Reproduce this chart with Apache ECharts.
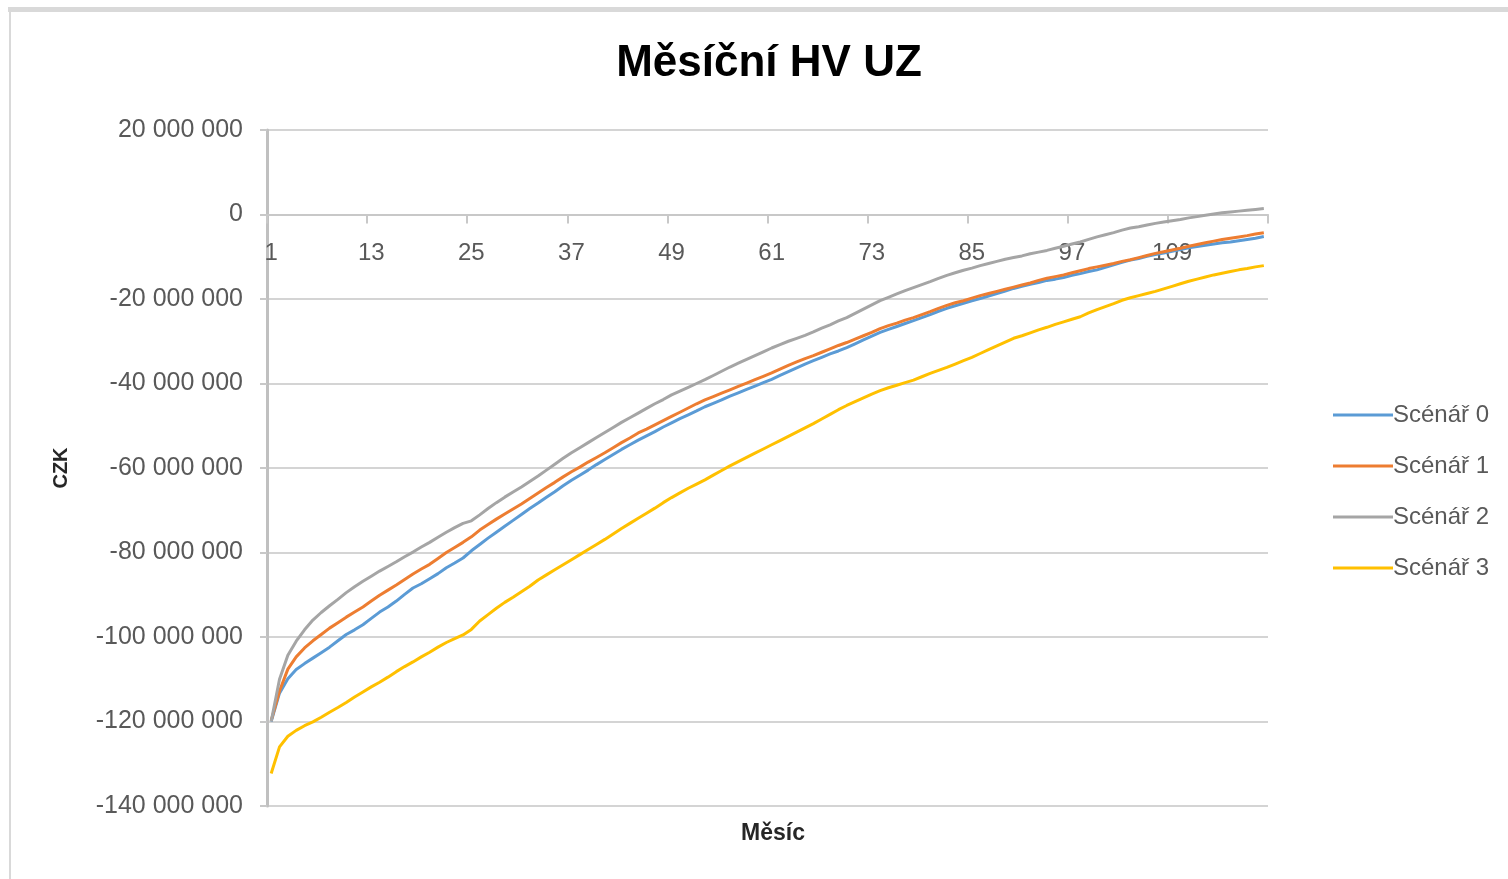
<!DOCTYPE html>
<html>
<head>
<meta charset="utf-8">
<title>Měsíční HV UZ</title>
<script src="https://cdn.jsdelivr.net/npm/echarts@6/dist/echarts.min.js"></script>
<style>
  html, body { margin: 0; padding: 0; background: #ffffff; }
  #chart { width: 1508px; height: 879px; }
</style>
</head>
<body>
<div id="chart"></div>
<script>
// měsíce 1..120
const months = Array.from({ length: 120 }, (_, i) => String(i + 1))

// hodnoty v milionech CZK
const scenar0 = [
  -120.0, -113.3, -109.9, -107.7, -106.3, -105.0, -103.7, -102.4, -100.9, -99.4,
  -98.3, -97.1, -95.6, -94.1, -92.9, -91.5, -89.9, -88.4, -87.4, -86.2,
  -85.0, -83.6, -82.5, -81.3, -79.6, -78.1, -76.6, -75.2, -73.8, -72.4,
  -71.0, -69.6, -68.3, -66.9, -65.6, -64.2, -62.9, -61.7, -60.5, -59.2,
  -58.0, -56.8, -55.6, -54.5, -53.4, -52.4, -51.4, -50.3, -49.3, -48.3,
  -47.4, -46.5, -45.5, -44.7, -43.9, -43.0, -42.2, -41.4, -40.6, -39.8,
  -39.0, -38.1, -37.2, -36.3, -35.4, -34.6, -33.8, -33.0, -32.3, -31.5,
  -30.6, -29.7, -28.8, -27.9, -27.2, -26.5, -25.8, -25.1, -24.4, -23.7,
  -22.9, -22.2, -21.6, -21.0, -20.4, -19.9, -19.3, -18.7, -18.1, -17.5,
  -17.0, -16.5, -16.1, -15.6, -15.3, -14.9, -14.4, -14.0, -13.5, -13.1,
  -12.5, -11.9, -11.3, -10.8, -10.4, -9.9, -9.5, -9.1, -8.7, -8.3,
  -7.9, -7.6, -7.3, -7.0, -6.7, -6.5, -6.2, -5.9, -5.6, -5.2
]
const scenar1 = [
  -119.8, -112.8, -107.6, -104.7, -102.6, -100.9, -99.4, -97.9, -96.6, -95.3,
  -94.1, -92.9, -91.5, -90.1, -88.9, -87.7, -86.4, -85.1, -83.9, -82.8,
  -81.4, -80.0, -78.8, -77.6, -76.3, -74.7, -73.4, -72.1, -70.9, -69.7,
  -68.5, -67.2, -65.9, -64.6, -63.4, -62.1, -60.9, -59.8, -58.6, -57.5,
  -56.4, -55.2, -54.0, -52.9, -51.7, -50.8, -49.8, -48.8, -47.8, -46.8,
  -45.8, -44.8, -43.9, -43.1, -42.3, -41.5, -40.7, -39.9, -39.1, -38.3,
  -37.5, -36.6, -35.7, -34.9, -34.1, -33.4, -32.6, -31.8, -31.0, -30.3,
  -29.5, -28.7, -27.9, -27.0, -26.3, -25.7, -25.0, -24.4, -23.7, -23.0,
  -22.2, -21.5, -20.9, -20.4, -19.8, -19.2, -18.7, -18.2, -17.7, -17.2,
  -16.7, -16.2, -15.6, -15.1, -14.7, -14.3, -13.8, -13.3, -12.8, -12.4,
  -12.0, -11.6, -11.1, -10.7, -10.2, -9.7, -9.2, -8.8, -8.4, -8.0,
  -7.5, -7.1, -6.7, -6.3, -5.9, -5.6, -5.3, -5.0, -4.6, -4.3
]
const scenar2 = [
  -120.0, -110.0, -104.3, -101.0, -98.3, -96.0, -94.2, -92.6, -91.1, -89.5,
  -88.1, -86.8, -85.6, -84.4, -83.3, -82.2, -81.0, -79.9, -78.7, -77.6,
  -76.4, -75.2, -74.1, -73.1, -72.5, -71.1, -69.6, -68.2, -66.9, -65.7,
  -64.5, -63.2, -61.9, -60.5, -59.1, -57.7, -56.4, -55.2, -54.0, -52.8,
  -51.6, -50.4, -49.2, -48.1, -47.0, -45.9, -44.8, -43.8, -42.7, -41.8,
  -40.9, -40.0, -39.1, -38.1, -37.1, -36.1, -35.2, -34.3, -33.4, -32.5,
  -31.6, -30.8, -30.0, -29.3, -28.6, -27.8, -26.9, -26.1, -25.2, -24.4,
  -23.4, -22.4, -21.4, -20.4, -19.6, -18.8, -18.0, -17.3, -16.6, -15.9,
  -15.1, -14.4, -13.8, -13.2, -12.7, -12.1, -11.6, -11.1, -10.6, -10.2,
  -9.8, -9.3, -8.9, -8.5, -8.0, -7.5, -7.0, -6.5, -5.9, -5.3,
  -4.8, -4.3, -3.7, -3.2, -2.9, -2.5, -2.1, -1.8, -1.5, -1.2,
  -0.8, -0.5, -0.2, 0.1, 0.4, 0.6, 0.8, 1.0, 1.2, 1.4
]
const scenar3 = [
  -132.3, -126.0, -123.5, -122.1, -121.0, -120.1, -119.0, -117.8, -116.7, -115.5,
  -114.2, -113.0, -111.8, -110.7, -109.5, -108.2, -107.0, -105.9, -104.7, -103.6,
  -102.4, -101.3, -100.4, -99.5, -98.2, -96.2, -94.7, -93.2, -91.8, -90.6,
  -89.3, -88.0, -86.5, -85.3, -84.1, -82.9, -81.7, -80.5, -79.3, -78.1,
  -76.9, -75.6, -74.3, -73.1, -71.9, -70.7, -69.5, -68.2, -67.0, -65.9,
  -64.8, -63.8, -62.8, -61.7, -60.6, -59.5, -58.5, -57.5, -56.5, -55.5,
  -54.5, -53.5, -52.5, -51.5, -50.5, -49.5, -48.4, -47.3, -46.2, -45.2,
  -44.3, -43.4, -42.5, -41.7, -41.0, -40.4, -39.8, -39.2, -38.4, -37.6,
  -36.9, -36.2, -35.4, -34.6, -33.8, -32.9, -32.0, -31.1, -30.2, -29.3,
  -28.7, -28.0, -27.3, -26.7, -26.0, -25.4, -24.8, -24.2, -23.3, -22.5,
  -21.8, -21.1, -20.3, -19.7, -19.2, -18.7, -18.2, -17.6, -17.0, -16.4,
  -15.8, -15.3, -14.8, -14.3, -13.9, -13.5, -13.1, -12.8, -12.4, -12.1
]

const seriesNames = ['Scénář 0', 'Scénář 1', 'Scénář 2', 'Scénář 3']
const seriesColors = ['#5b9bd5', '#ed7d31', '#a5a5a5', '#ffc000']
const seriesValues = [scenar0, scenar1, scenar2, scenar3]

const yMin = -140000000
const yMax = 20000000
const yStep = 20000000

const textGray = '#595959'
const font = "'Liberation Sans', Arial, sans-serif"

const gridTop = 130
const gridBottom = 73
const gridHeight = 879 - gridTop - gridBottom
// osa x leží na nule, posun od spodního okraje mřížky
const zeroOffset = -gridHeight * (0 - yMin) / (yMax - yMin)

const formatCzk = (v) => {
  const s = String(Math.abs(Math.round(v))).replace(/\B(?=(\d{3})+(?!\d))/g, ' ')
  return v < 0 ? '-' + s : s
}

const chart = echarts.init(document.getElementById('chart'))

const option = {
  animation: false,
  backgroundColor: '#ffffff',
  textStyle: { fontFamily: font },
  graphic: [
    // rámeček oblasti grafu (oříznutý)
    { type: 'rect', shape: { x: 8, y: 7, width: 1500, height: 5 }, style: { fill: '#d9d9d9' }, silent: true },
    { type: 'rect', shape: { x: 9, y: 7, width: 2, height: 872 }, style: { fill: '#d9d9d9' }, silent: true }
  ],
  title: [
    {
      text: 'Měsíční HV UZ',
      left: 764,
      top: 37,
      textAlign: 'center',
      textStyle: { fontFamily: font, fontSize: 44, fontWeight: 'bold', color: '#000000' }
    },
    {
      text: 'Měsíc',
      left: 768,
      top: 817,
      textAlign: 'center',
      textStyle: { fontFamily: font, fontSize: 23, fontWeight: 'bold', color: '#262626' }
    }
  ],
  legend: {
    orient: 'vertical',
    left: 1328,
    top: 398,
    icon: 'rect',
    itemWidth: 60,
    itemHeight: 3,
    itemGap: 27,
    data: seriesNames,
    textStyle: { fontFamily: font, fontSize: 24, color: textGray, padding: [0, 0, 0, -5] }
  },
  grid: {
    left: 267,
    right: 240,
    top: gridTop,
    bottom: gridBottom,
    containLabel: false
  },
  xAxis: {
    type: 'category',
    data: months,
    boundaryGap: true,
    position: 'bottom',
    offset: zeroOffset,
    axisLine: {
      onZero: false,
      lineStyle: { color: '#c8c8c8', width: 2 }
    },
    axisTick: {
      show: true,
      interval: 11,
      length: 9,
      lineStyle: { color: '#c8c8c8', width: 2 }
    },
    axisLabel: {
      interval: 11,
      margin: 27,
      color: textGray,
      fontFamily: font,
      fontSize: 24
    },
    splitLine: { show: false }
  },
  yAxis: {
    type: 'value',
    min: yMin,
    max: yMax,
    interval: yStep,
    name: 'CZK',
    nameLocation: 'middle',
    nameRotate: 90,
    nameGap: 196,
    nameTextStyle: { fontFamily: font, fontSize: 20, fontWeight: 'bold', color: '#262626' },
    axisLine: {
      show: true,
      lineStyle: { color: '#c0c0c0', width: 3 }
    },
    axisTick: {
      show: true,
      length: 7,
      lineStyle: { color: '#c8c8c8', width: 2 }
    },
    axisLabel: {
      margin: 24,
      color: textGray,
      fontFamily: font,
      fontSize: 25,
      formatter: formatCzk
    },
    splitLine: {
      lineStyle: { color: '#d4d4d4', width: 2 }
    }
  },
  series: seriesValues.map((vals, k) => ({
    name: seriesNames[k],
    type: 'line',
    data: vals.map((v) => v * 1000000),
    showSymbol: false,
    symbol: 'none',
    color: seriesColors[k],
    lineStyle: { color: seriesColors[k], width: 3 },
    z: 2 + k
  }))
}

chart.setOption(option)
</script>
</body>
</html>
